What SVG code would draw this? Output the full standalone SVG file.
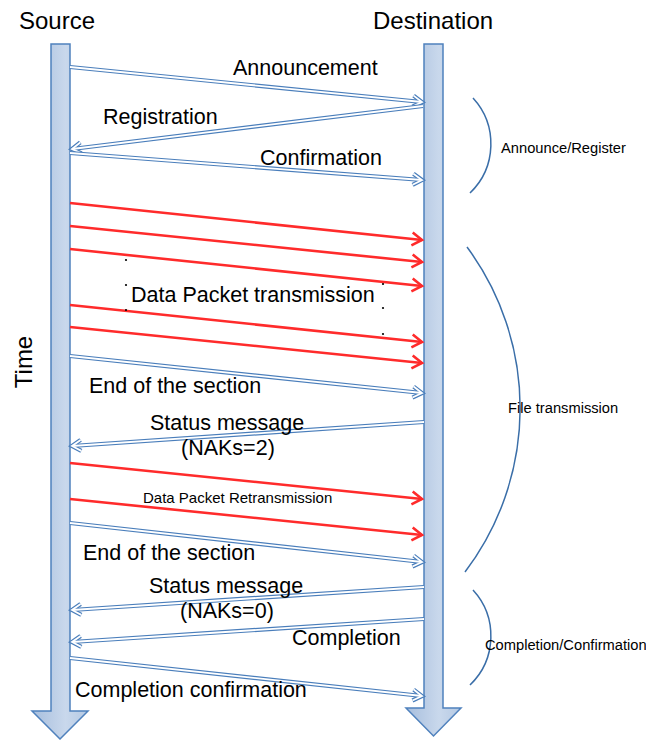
<svg xmlns="http://www.w3.org/2000/svg" xmlns:xlink="http://www.w3.org/1999/xlink" width="646" height="740" viewBox="0 0 646 740">
<style>
text{font-family:"Liberation Sans",Arial,sans-serif;fill:#000}
.t{font-size:24px}
.l{font-size:21.5px}
.s{font-size:14.7px}
.life{stroke:#4F81BD;stroke-width:1.5;fill:url(#g)}
.o{fill:none;stroke:#4A7EBB;stroke-width:4.2;marker-end:url(#mo)}
.i{fill:none;stroke:#fff;stroke-width:1.8;marker-end:url(#mi)}
.r{fill:none;stroke:#FF2B2B;stroke-width:2.6;marker-end:url(#mr)}
.arc{fill:none;stroke:#3A6EA8;stroke-width:1.5}
.dot{fill:#000}
</style>
<defs>
<linearGradient id="g" x1="0" x2="1" y1="0" y2="0">
<stop offset="0" stop-color="#A7BEDD"/>
<stop offset="0.6" stop-color="#C9D8EC"/>
<stop offset="1" stop-color="#B5C9E3"/>
</linearGradient>
<marker id="mo" markerUnits="userSpaceOnUse" orient="auto" overflow="visible" markerWidth="1" markerHeight="1" refX="0" refY="0"><path d="M-9,-5.5 L0,0 L-9,5.5" fill="none" stroke="#4A7EBB" stroke-width="4.2"/></marker>
<marker id="mi" markerUnits="userSpaceOnUse" orient="auto" overflow="visible" markerWidth="1" markerHeight="1" refX="0" refY="0"><path d="M-9,-5.5 L0,0 L-9,5.5" fill="none" stroke="#fff" stroke-width="1.8"/></marker>
<marker id="mr" markerUnits="userSpaceOnUse" orient="auto" overflow="visible" markerWidth="1" markerHeight="1" refX="0" refY="0"><path d="M-10,-6.5 L0,0 L-10,6.5" fill="none" stroke="#FF2B2B" stroke-width="2.6"/></marker>
<path id="a1" d="M70,67 L422,102"/>
<path id="a2" d="M423,106 L72,149"/>
<path id="a3" d="M70,153 L422,180"/>
<path id="a4" d="M70,356 L422,393"/>
<path id="a5" d="M424,422 L72,446"/>
<path id="a6" d="M70,523 L422,562"/>
<path id="a7" d="M424,587 L72,610"/>
<path id="a8" d="M424,619 L72,642"/>
<path id="a9" d="M70,658 L422,696"/>
</defs>
<rect width="646" height="740" fill="#fff"/>
<g id="source">
<path class="life" d="M51,44 H70 V711 H88 L60,739 L32,711 H51 Z"/>
<text class="t" x="19" y="29">Source</text>
</g>
<g id="destination">
<path class="life" d="M424,44 H443 V708 H461 L433.5,736 L406,708 H424 Z"/>
<text class="t" x="373" y="29">Destination</text>
</g>
<g id="time">
<text class="t" transform="translate(32,362) rotate(-90)" text-anchor="middle">Time</text>
</g>
<g id="connectors">
<use xlink:href="#a1" class="o"/><use xlink:href="#a1" class="i"/>
<use xlink:href="#a2" class="o"/><use xlink:href="#a2" class="i"/>
<use xlink:href="#a3" class="o"/><use xlink:href="#a3" class="i"/>
<path class="r" d="M70,203 L422,240"/>
<path class="r" d="M70,226 L422,262"/>
<path class="r" d="M70,249 L422,286"/>
<path class="r" d="M70,305 L422,342"/>
<path class="r" d="M70,327 L422,363"/>
<use xlink:href="#a4" class="o"/><use xlink:href="#a4" class="i"/>
<use xlink:href="#a5" class="o"/><use xlink:href="#a5" class="i"/>
<path class="r" d="M70,463 L422,499"/>
<path class="r" d="M70,499 L422,535"/>
<use xlink:href="#a6" class="o"/><use xlink:href="#a6" class="i"/>
<use xlink:href="#a7" class="o"/><use xlink:href="#a7" class="i"/>
<use xlink:href="#a8" class="o"/><use xlink:href="#a8" class="i"/>
<use xlink:href="#a9" class="o"/><use xlink:href="#a9" class="i"/>
</g>
<g id="labels">
<text class="l" x="233" y="75">Announcement</text>
<text class="l" x="103" y="124">Registration</text>
<text class="l" x="260" y="165">Confirmation</text>
<text class="l" x="131" y="302">Data Packet transmission</text>
<text class="l" x="89" y="393">End of the section</text>
<text class="l" x="150" y="430">Status message</text>
<text class="l" x="181" y="455">(NAKs=2)</text>
<text x="143" y="503" style="font-size:15px">Data Packet Retransmission</text>
<text class="l" x="83" y="560">End of the section</text>
<text class="l" x="149" y="593">Status message</text>
<text class="l" x="180" y="618">(NAKs=0)</text>
<text class="l" x="292" y="645">Completion</text>
<text class="l" x="75" y="697">Completion confirmation</text>
</g>
<g id="dots">
<circle class="dot" cx="126" cy="260" r="1.1"/>
<circle class="dot" cx="126" cy="285" r="1.1"/>
<circle class="dot" cx="126" cy="310" r="1.1"/>
<circle class="dot" cx="383" cy="284" r="1.1"/>
<circle class="dot" cx="383" cy="308" r="1.1"/>
<circle class="dot" cx="383" cy="334" r="1.1"/>
</g>
<g id="phase-announce">
<path class="arc" d="M473,98 A68,68 0 0 1 470,193"/>
<text class="s" x="501" y="153">Announce/Register</text>
</g>
<g id="phase-file">
<path class="arc" d="M467,247 A271,271 0 0 1 465,572"/>
<text class="s" x="508" y="413">File transmission</text>
</g>
<g id="phase-completion">
<path class="arc" d="M473,590 A68,68 0 0 1 470,685"/>
<text class="s" x="485" y="650">Completion/Confirmation</text>
</g>
</svg>
